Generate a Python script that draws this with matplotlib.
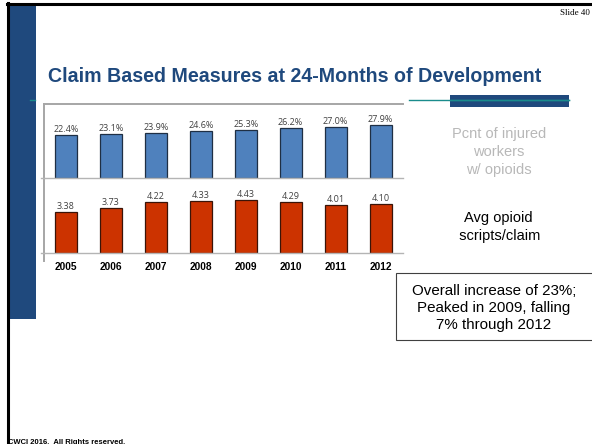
import matplotlib
matplotlib.use("Agg")
import matplotlib.pyplot as plt
from matplotlib.patches import Rectangle
from matplotlib.lines import Line2D

years = ["2005", "2006", "2007", "2008", "2009", "2010", "2011", "2012"]
pct_injured = [22.4, 23.1, 23.9, 24.6, 25.3, 26.2, 27.0, 27.9]
avg_scripts = [3.38, 3.73, 4.22, 4.33, 4.43, 4.29, 4.01, 4.10]

W, H = 592, 444
NAVY = "#1f497d"
TEAL = "#1a8c8c"
GRID = "#b4b4b4"

fig = plt.figure(figsize=(W / 100, H / 100), dpi=100)
plt.rcParams["font.family"] = ["Liberation Sans", "DejaVu Sans"]


def box(x0, y0, x1, y1):
    # pixel box (top-left origin) -> figure fraction rect
    return [x0 / W, 1 - y1 / H, (x1 - x0) / W, (y1 - y0) / H]


def hline(x0, x1, y, **kw):
    fig.add_artist(Line2D([x0 / W, x1 / W], [1 - y / H, 1 - y / H],
                          transform=fig.transFigure, **kw))


def vline(x, y0, y1, **kw):
    fig.add_artist(Line2D([x / W, x / W], [1 - y0 / H, 1 - y1 / H],
                          transform=fig.transFigure, **kw))


# slide decoration
fig.add_artist(Rectangle((9 / W, 1 - 319 / H), 27 / W, 314 / H,
                         transform=fig.transFigure, color=NAVY, lw=0))
vline(7.8, 3, 444, color="black", lw=2.2)
hline(7, 592, 4.5, color="black", lw=2.2)
hline(30, 35, 100, color=TEAL, lw=1)
hline(409, 569, 100, color=TEAL, lw=1)
fig.add_artist(Rectangle((450 / W, 1 - 107 / H), 119 / W, 12 / H,
                         transform=fig.transFigure, color=NAVY, lw=0))
hline(450, 569, 100, color=TEAL, lw=1, zorder=5)

fig.text(590 / W, 1 - 13 / H, "Slide 40", ha="right", va="center",
         fontsize=6.5, family="Liberation Serif")
fig.text(48 / W, 1 - 77 / H, "Claim Based Measures at 24-Months of Development",
         ha="left", va="center", fontsize=14.1, fontweight="bold", color=NAVY)
fig.text(8 / W, 1 - 442 / H, "CWCI 2016.  All Rights reserved.", ha="left",
         va="center", fontsize=5.5, fontweight="bold")

# chart frame
hline(44, 403, 104.5, color="#a6a6a6", lw=1.4)
vline(44, 104, 261, color="#a6a6a6", lw=1.4)

x = range(len(years))

ax1 = fig.add_axes(box(44, 104, 403, 178))
ax1.bar(x, pct_injured, width=0.49, color="#4f81bd", edgecolor="#1f2f44", lw=0.9)
for i, v in enumerate(pct_injured):
    ax1.text(i, v + 0.6, f"{v:.1f}%", ha="center", va="bottom",
             fontsize=6.5, color="#404040", family="Open Sans")
ax1.set_xlim(-0.49, 7.5)
ax1.set_ylim(0, 39)

ax2 = fig.add_axes(box(44, 178, 403, 253))
ax2.bar(x, avg_scripts, width=0.49, color="#cc3300", edgecolor="#3a1408", lw=0.9)
for i, v in enumerate(avg_scripts):
    ax2.text(i, v + 0.08, f"{v:.2f}", ha="center", va="bottom",
             fontsize=6.5, color="#404040", family="Open Sans")
ax2.set_xlim(-0.49, 7.5)
ax2.set_ylim(0, 6.25)
ax2.set_xticks(list(x))
ax2.set_xticklabels(years, fontsize=7.3, fontweight="bold")
ax2.tick_params(axis="x", length=0, pad=6.5)

for ax in (ax1, ax2):
    ax.patch.set_alpha(0)
    for s in ("top", "right", "left"):
        ax.spines[s].set_visible(False)
    ax.spines["bottom"].set_color(GRID)
    ax.spines["bottom"].set_linewidth(1)
    ax.set_yticks([])
ax1.set_xticks([])
hline(41, 44, 178, color=GRID, lw=1)
hline(41, 44, 253, color=GRID, lw=1)

# side notes
fig.text(499 / W, 1 - 152 / H, "Pcnt of injured\nworkers\nw/ opioids", ha="center",
         va="center", fontsize=10.5, color="#b8b8b8", linespacing=1.35)
fig.text(498 / W, 1 - 227 / H, "Avg opioid\n scripts/claim", ha="center",
         va="center", fontsize=10.5, color="black", linespacing=1.35)
fig.add_artist(Rectangle((396 / W, 1 - 340 / H), 200 / W, 67 / H,
                         transform=fig.transFigure, facecolor="white",
                         edgecolor="#404040", lw=0.8))
fig.text(494 / W, 1 - 308 / H, "Overall increase of 23%;\nPeaked in 2009, falling\n7% through 2012",
         ha="center", va="center", fontsize=10.9, color="black", linespacing=1.3)

fig.savefig("out.png", dpi=100)
